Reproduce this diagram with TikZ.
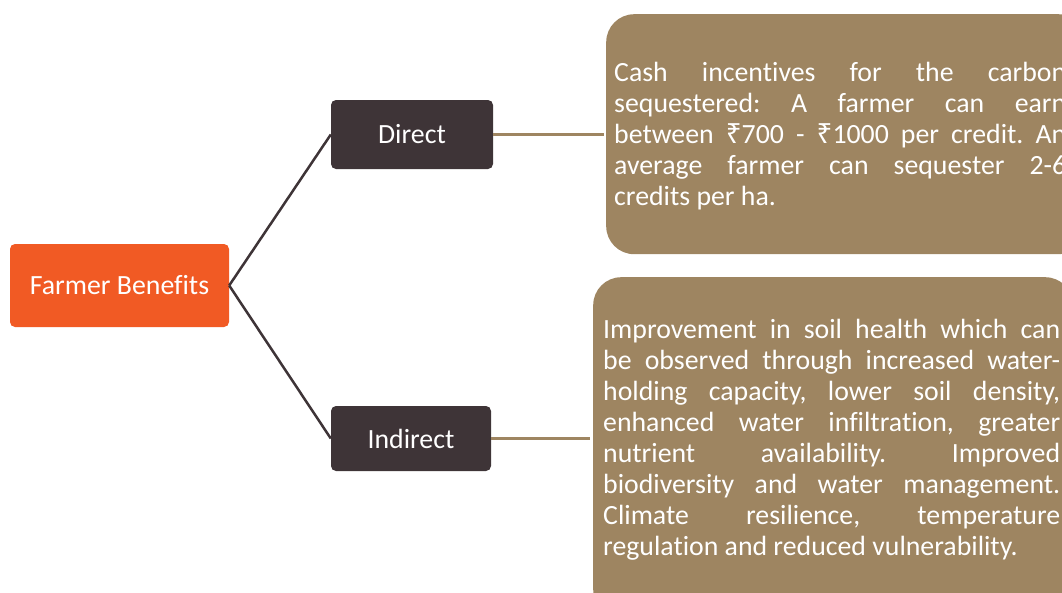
\documentclass[tikz,border=0pt]{standalone}
\usepackage{fontspec}
\usepackage{xcolor}
\setmainfont{Carlito}[Ligatures={NoCommon}]
\newfontfamily\rupeefont{Noto Sans}
\definecolor{benefitorange}{RGB}{241,90,36}
\definecolor{branchdark}{RGB}{62,52,55}
\definecolor{leaftan}{RGB}{158,133,97}
\newcommand{\rupee}{{\rupeefont ₹}}

\begin{document}
\begin{tikzpicture}[x=1pt,y=-1pt]
  \useasboundingbox (0,0) rectangle (1062,592);
  \clip (0,0) rectangle (1062,592);
  \tikzstyle{every node}=[font=\fontsize{27.8}{31}\selectfont,text=white]
  \tikzstyle{rootbox}=[rectangle,rounded corners=5pt,fill=benefitorange,minimum width=219pt,minimum height=83pt]
  \tikzstyle{branchbox}=[rectangle,rounded corners=5pt,fill=branchdark]
  \tikzstyle{leafbox}=[rectangle,rounded corners=28pt,fill=leaftan,anchor=north west]
  \tikzstyle{leaftext}=[anchor=north west,inner sep=0pt,execute at begin node={\frenchspacing\spaceskip=0pt\xspaceskip=0pt\relax\noindent}]
  \tikzstyle{branchline}=[draw=branchdark,line width=2.5pt]
  \tikzstyle{leafline}=[draw=leaftan,line width=2.5pt]
  % boxes
  \node[rootbox] (root) at (119.5,285.5) {Farmer Benefits};
  \node[branchbox,minimum width=162pt,minimum height=69pt] (direct) at (412,134.5) {Direct};
  \node[branchbox,minimum width=160pt,minimum height=65pt] (indirect) at (411,438.5) {Indirect};
  \node[leafbox,minimum width=480pt,minimum height=240pt] (cash) at (606,14) {};
  \node[leafbox,minimum width=480pt,minimum height=340pt] (soil) at (593,277) {};
  % texts
  \node[leaftext,text width=452pt] (cashtext) at (614,61.5) {%
    \rule{0pt}{20pt}\makebox[452pt][s]{Cash incentives for the carbon}\\
    \makebox[452pt][s]{sequestered: A farmer can earn}\\
    \makebox[452pt][s]{between \rupee700 - \rupee1000 per credit. An}\\
    \makebox[452pt][s]{average farmer can sequester 2-6}\\
    credits per ha.};
  \node[leaftext,text width=457pt] (soiltext) at (603,318) {%
    \rule{0pt}{20pt}\makebox[457pt][s]{Improvement in soil health which can}\\
    \makebox[457pt][s]{be observed through increased water-}\\
    \makebox[457pt][s]{holding capacity, lower soil density,}\\
    \makebox[457pt][s]{enhanced water infiltration, greater}\\
    \makebox[457pt][s]{nutrient availability. Improved}\\
    \makebox[457pt][s]{biodiversity and water management.}\\
    \makebox[457pt][s]{Climate resilience, temperature}\\
    regulation and reduced vulnerability.};
  % connectors
  \draw[branchline] (root.east) -- (direct.west);
  \draw[branchline] (root.east) -- (indirect.west);
  \draw[leafline,shorten >=2pt] (direct.east) -- (direct.east -| cash.west);
  \draw[leafline,shorten >=3pt] (indirect.east) -- (indirect.east -| soil.west);
\end{tikzpicture}
\end{document}
